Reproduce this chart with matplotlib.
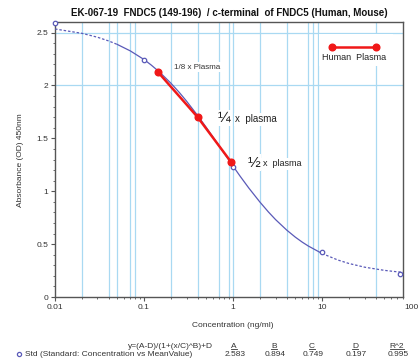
import matplotlib
matplotlib.use("Agg")
import matplotlib.pyplot as plt
from matplotlib.lines import Line2D
from matplotlib.patches import Rectangle
from matplotlib.ticker import FixedLocator, FixedFormatter, MultipleLocator, LogLocator, NullFormatter

plt.rcParams['font.family'] = ['Liberation Sans', 'DejaVu Sans']

# fitted 4PL curve
curve_conc = [0.01, 0.02, 0.03, 0.04, 0.05, 0.07, 0.1, 0.12, 0.15, 0.2, 0.25, 0.3,
              0.4, 0.5, 0.6, 0.7, 0.8, 1, 1.2, 1.5, 2, 2.5, 3, 4, 5, 6, 7, 10,
              15, 20, 30, 50, 70, 81]
curve_od = [2.534, 2.493, 2.456, 2.421, 2.388, 2.327, 2.245, 2.194, 2.125, 2.022,
            1.932, 1.852, 1.716, 1.603, 1.508, 1.426, 1.355, 1.237, 1.142, 1.031,
            0.898, 0.803, 0.732, 0.633, 0.566, 0.518, 0.482, 0.411, 0.350, 0.317,
            0.282, 0.252, 0.238, 0.234]

# standards
std_conc = [0.01, 0.1, 1, 10, 75]
std_od = [2.59, 2.236, 1.225, 0.426, 0.22]

# human plasma dilutions
plasma_conc = [0.144, 0.40, 0.95]
plasma_od = [2.125, 1.70, 1.276]

# grid lines of the original software
vgrid = [0.02, 0.04, 0.05, 0.07, 0.08, 0.2, 0.4, 0.7, 0.9, 1, 2, 4, 7, 8, 9, 40]
hgrid = [2.0, 2.5]

xticks = [0.01, 0.1, 1, 10]
xticklabels = ["0.01", "0.1", "1", "10"]
yticks = [0, 0.5, 1, 1.5, 2, 2.5]
yticklabels = ["0", "0.5", "1", "1.5", "2", "2.5"]

fit_names = ["A", "B", "C", "D", "R^2"]
fit_values = ["2.583", "0.894", "0.749", "0.197", "0.995"]

grid_col = "#a9d9f2"
curve_col = "#5a5ab8"
red = "#f01818"
axis_col = "#555555"
text_col = "#333333"

fig = plt.figure(figsize=(4.19, 3.63), dpi=100)
ax = fig.add_axes([0.1313, 0.1818, 0.8305, 0.7576])
ax.set_xscale("log")
ax.set_xlim(0.01, 81)
ax.set_ylim(0, 2.6)

for x in vgrid:
    ax.axvline(x, color=grid_col, lw=0.9, zorder=1)
for y in hgrid:
    ax.axhline(y, color=grid_col, lw=0.9, zorder=1)

# curve: dashed outside the standard range, solid inside
left = [(c, v) for c, v in zip(curve_conc, curve_od) if c <= 0.05]
mid = [(c, v) for c, v in zip(curve_conc, curve_od) if 0.05 <= c <= 10]
right = [(c, v) for c, v in zip(curve_conc, curve_od) if c >= 10]
for seg, ls in [(left, (0, (2, 1.5))), (mid, "-"), (right, (0, (2, 1.5)))]:
    ax.plot([p[0] for p in seg], [p[1] for p in seg], color=curve_col, lw=0.9,
            ls=ls, zorder=3)

ax.plot(std_conc, std_od, ls="none", marker="o", ms=3.2, mfc="white",
        mec=curve_col, mew=0.9, zorder=4, clip_on=False)

ax.plot(plasma_conc, plasma_od, color=red, lw=1.8, marker="o", ms=4.8,
        zorder=5)

# labels next to the dilutions
box = dict(facecolor="white", edgecolor="none", pad=1)
ax.text(0.342, 0.836, "1/8 x Plasma", transform=ax.transAxes, fontsize=5.8,
        color=text_col, va="center", ha="left", bbox=box, zorder=2)
ax.text(0.466, 0.651, "\u00bc", transform=ax.transAxes, fontsize=11,
        color="#222222", va="center", ha="left", bbox=box, zorder=2)
ax.text(0.517, 0.646, "x  plasma", transform=ax.transAxes, fontsize=7,
        color="#222222", va="center", ha="left", bbox=box, zorder=2)
ax.text(0.552, 0.489, "\u00bd", transform=ax.transAxes, fontsize=11,
        color="#222222", va="center", ha="left", bbox=box, zorder=2)
ax.text(0.597, 0.484, "x  plasma", transform=ax.transAxes, fontsize=6.5,
        color="#222222", va="center", ha="left", bbox=box, zorder=2)

# legend
ax.add_patch(Rectangle((0.76, 0.84), 0.21, 0.115, transform=ax.transAxes,
                       facecolor="white", edgecolor="none", zorder=2))
ax.plot([0.797, 0.923], [0.910, 0.910], transform=ax.transAxes, color=red,
        lw=1.8, marker="o", ms=4.8, zorder=5)
ax.text(0.86, 0.87, "Human  Plasma", transform=ax.transAxes, fontsize=6.5,
        color="#222222", ha="center", va="center", zorder=5)

# axes styling
for s in ax.spines.values():
    s.set_color(axis_col)
    s.set_linewidth(1.0)
ax.xaxis.set_major_locator(FixedLocator(xticks))
ax.xaxis.set_major_formatter(FixedFormatter(xticklabels))
ax.xaxis.set_minor_locator(LogLocator(base=10, subs=range(2, 10)))
ax.xaxis.set_minor_formatter(NullFormatter())
ax.yaxis.set_major_locator(FixedLocator(yticks))
ax.yaxis.set_major_formatter(FixedFormatter(yticklabels))
ax.yaxis.set_minor_locator(MultipleLocator(0.1))
ax.tick_params(which="major", length=3, width=0.8, color=axis_col,
               labelsize=6, labelcolor=text_col, pad=2)
ax.tick_params(which="minor", length=1.5, width=0.6, color=axis_col)
ax.text(100, -0.026, "100", transform=ax.get_xaxis_transform(), fontsize=6,
        color=text_col, ha="center", va="top", clip_on=False)

fig.text(0.5465, 0.964, "EK-067-19  FNDC5 (149-196)  / c-terminal  of FNDC5 (Human, Mouse)",
         fontsize=7, fontweight="bold", ha="center", va="center", color="#111111")
fig.text(0.048, 0.559, "Absorbance (OD) 450nm", rotation=90, fontsize=6,
         ha="center", va="center", color=text_col)
fig.text(0.556, 0.102, "Concentration (ng/ml)", fontsize=6, ha="center",
         va="center", color=text_col)

# fit parameter table
row1 = 1 - 346 / 363
row2 = 1 - 354 / 363
fig.text(213 / 419, row1, "y=(A-D)/(1+(x/C)^B)+D", fontsize=6, ha="right",
         va="center", color=text_col)
head_x = [234, 274, 312, 355, 397]
heads = []
for name, px in zip(fit_names, head_x):
    heads.append(fig.text(px / 419, row1, name, fontsize=6, ha="center",
                          va="center", color=text_col))
for val, px in zip(fit_values, head_x):
    fig.text((px + 1) / 419, row2, val, fontsize=6, ha="center", va="center",
             color=text_col)
fig.add_artist(Line2D([19 / 419], [row2], marker="o", ms=3, mfc="white",
                      mec=curve_col, mew=0.9, ls="none"))
fig.text(25 / 419, row2, "Std (Standard: Concentration vs MeanValue)", fontsize=6,
         ha="left", va="center", color=text_col)

fig.canvas.draw()
r = fig.canvas.get_renderer()
for t in heads:
    bb = t.get_window_extent(r).transformed(fig.transFigure.inverted())
    fig.add_artist(Line2D([bb.x0, bb.x1], [bb.y0 + 0.002, bb.y0 + 0.002],
                          color=text_col, lw=0.6))

fig.savefig("out.png", dpi=100)
